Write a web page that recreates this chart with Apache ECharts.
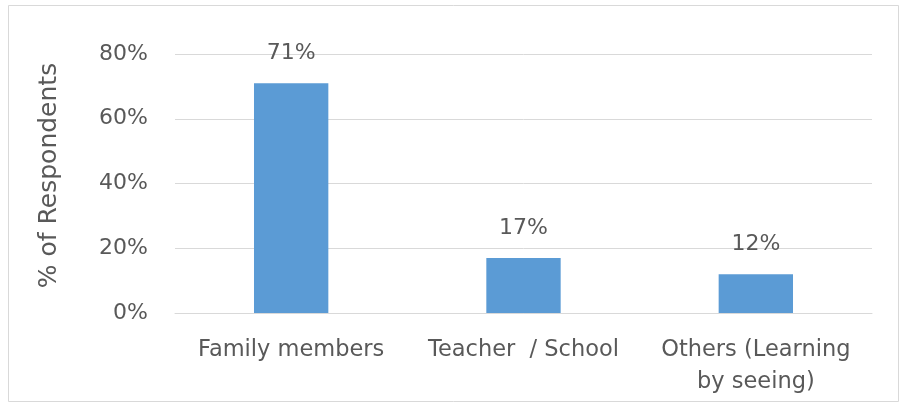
<!DOCTYPE html>
<html>
<head>
<meta charset="utf-8">
<script src="https://cdn.jsdelivr.net/npm/echarts@6/dist/echarts.min.js"></script>
<style>
  html, body { margin: 0; padding: 0; background: #ffffff; }
  #chart { width: 905px; height: 409px; }
</style>
</head>
<body>
<div id="chart"></div>
<script>
// Source of learning, share of respondents
const categories = ['Family members', 'Teacher  / School', 'Others (Learning\nby seeing)'];
const shares = [71, 17, 12];
const yTicks = { min: 0, max: 80, interval: 20 };

const textColor = '#595959';
const gridColor = '#d9d9d9';
const barColor = '#5b9bd5';
const font = 'DejaVu Sans';

const chart = echarts.init(document.getElementById('chart'), null, { renderer: 'canvas' });

chart.setOption({
  backgroundColor: '#ffffff',
  animation: false,
  textStyle: { fontFamily: font },
  graphic: [{
    type: 'rect',
    shape: { x: 8.5, y: 5.5, width: 890, height: 396 },
    style: { fill: 'none', stroke: gridColor, lineWidth: 1 },
    silent: true
  }],
  grid: { left: 175, right: 33, top: 54, bottom: 96 },
  xAxis: {
    type: 'category',
    data: categories,
    axisLine: { show: true, lineStyle: { color: gridColor, width: 1 } },
    axisTick: { show: false },
    axisLabel: {
      interval: 0,
      color: textColor,
      fontFamily: font,
      fontSize: 22.5,
      lineHeight: 32,
      margin: 21
    }
  },
  yAxis: {
    type: 'value',
    min: yTicks.min,
    max: yTicks.max,
    interval: yTicks.interval,
    name: '% of Respondents',
    nameLocation: 'middle',
    nameGap: 113,
    nameTextStyle: { color: textColor, fontFamily: font, fontSize: 25, padding: [0, 0, 0, 16] },
    axisLine: { show: false },
    axisTick: { show: false },
    axisLabel: {
      color: textColor,
      fontFamily: font,
      fontSize: 22,
      margin: 27,
      formatter: v => v + '%'
    },
    splitLine: { lineStyle: { color: gridColor, width: 1 } }
  },
  series: [{
    type: 'bar',
    data: shares,
    barWidth: '32%',
    itemStyle: { color: barColor },
    label: {
      show: true,
      position: 'top',
      distance: 19,
      color: textColor,
      fontFamily: font,
      fontSize: 22,
      formatter: p => p.value + '%'
    }
  }]
});
</script>
</body>
</html>
